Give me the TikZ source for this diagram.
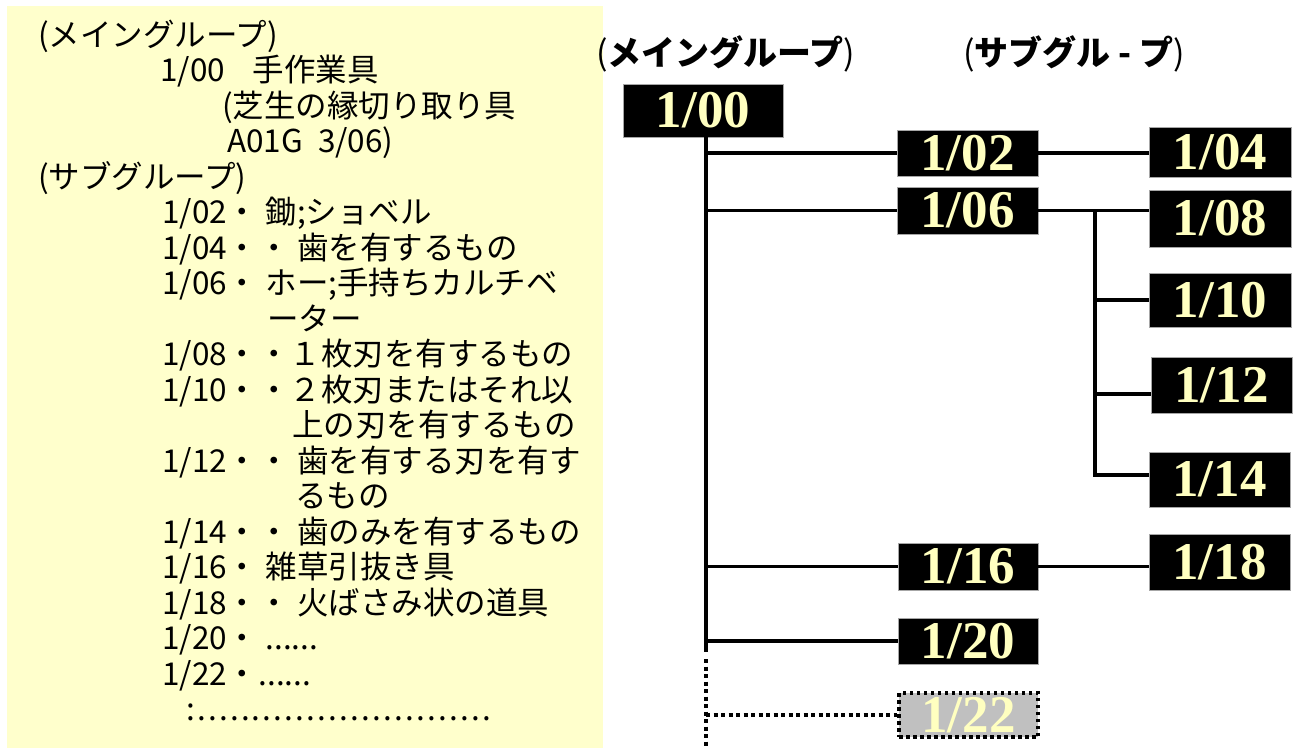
\documentclass[tikz,border=0pt]{standalone}
\usepackage{fontspec}
\setmainfont{Liberation Serif}
\newfontfamily\jp{Noto Sans CJK JP}
\newfontfamily\jpsp[LetterSpace=7]{Noto Sans CJK JP}
\definecolor{panel}{HTML}{FFFFCC}
\definecolor{boxtext}{HTML}{FFFFC0}
\definecolor{boxgray}{HTML}{C0C0C0}
\begin{document}
\begin{tikzpicture}[x=1pt,y=-1pt,
  code/.style={fill=black, draw=gray!70, line width=0.8pt, text=boxtext,
    font=\fontsize{53}{53}\selectfont\bfseries, inner sep=0pt,
    minimum width=141pt, minimum height=47pt},
  conn/.style={line width=3.5pt},
  dotline/.style={line width=4pt, dash pattern=on 4pt off 3.5pt},
  lt/.style={anchor=base west, inner sep=0pt, font=\jp\fontsize{31.5}{35}\selectfont},
  hd/.style={anchor=base west, inner sep=0pt, font=\jp\fontsize{34}{40}\selectfont}
]
\useasboundingbox (0,0) rectangle (1298,753);
\fill[white] (0,0) rectangle (1298,753);
\fill[panel] (7,6) rectangle (603,748);

% left list
\node[lt] (l0)  at (38,46)    {(メイングループ)};
\node[lt] (l1)  at (160,81.5) {1/00\hspace{28pt}手作業具};
\node[lt] (l2)  at (222,117)  {(芝生の縁切り取り具};
\node[lt] (l3)  at (227,152.5){A01G\hspace{15pt}3/06)};
\node[lt] (l4)  at (38,188)   {(サブグループ)};
\node[lt] (l5)  at (162,223.5){1/02・ 鋤;ショベル};
\node[lt] (l6)  at (162,259)  {1/04・・ 歯を有するもの};
\node[lt] (l7)  at (162,294.5){1/06・ ホー;手持ちカルチベ};
\node[lt] (l8)  at (267,330)  {ーター};
\node[lt] (l9)  at (162,365.5){1/08・・１枚刃を有するもの};
\node[lt] (l10) at (162,401)  {1/10・・２枚刃またはそれ以};
\node[lt] (l11) at (292,436.5){上の刃を有するもの};
\node[lt] (l12) at (162,472)  {1/12・・ 歯を有する刃を有す};
\node[lt] (l13) at (295,507.5){るもの};
\node[lt] (l14) at (162,543)  {1/14・・ 歯のみを有するもの};
\node[lt] (l15) at (162,578.5){1/16・ 雑草引抜き具};
\node[lt] (l16) at (162,614)  {1/18・・ 火ばさみ状の道具};
\node[lt] (l17) at (162,649.5){1/20・ ......};
\node[lt] (l18) at (162,685)  {1/22・......};
\node[lt] (l19) at (186,720.5){\jpsp :...........................};

% headers
\node[hd] (h1) at (596,65) {{\mdseries(}{\bfseries メイングループ}{\mdseries)}};
\node[hd] (h2) at (963,65) {{\mdseries(}{\bfseries サブグル - プ}{\mdseries)}};

% boxes
\node[code, minimum width=160pt, minimum height=53pt] (n00) at (703,110.5) {1/00};
\node[code, minimum height=46pt] (n02) at (967.5,153) {1/02};
\node[code] (n06) at (967.5,210.5) {1/06};
\node[code, minimum width=140pt] (n16) at (968,566.5) {1/16};
\node[code, minimum width=140pt, minimum height=46pt] (n20) at (968,641) {1/20};
\node[code, fill=boxgray, draw=black, line width=3.5pt, dash pattern=on 3.5pt off 3.5pt,
      minimum width=139pt, minimum height=44pt] (n22) at (968.5,715) {1/22};
\node[code, minimum width=142pt, minimum height=50pt] (n04) at (1220,152) {1/04};
\node[code, minimum width=142pt, minimum height=57pt] (n08) at (1220,218.5) {1/08};
\node[code, minimum width=142pt, minimum height=54pt] (n10) at (1220,300) {1/10};
\node[code, minimum height=56pt] (n12) at (1221.5,385) {1/12};
\node[code, minimum height=55pt] (n14) at (1219.5,479.5) {1/14};
\node[code, minimum height=56pt] (n18) at (1219.5,562) {1/18};

% main trunk
\coordinate (tb) at (706,652);
\coordinate (ts) at (706,659);
\coordinate (te) at (706,747);
\draw[conn] (n00.south -| tb) -- (tb);
\draw[conn] (tb |- n02.west) -- (n02.west);
\draw[conn] (tb |- n06.west) -- (n06.west);
\draw[conn] (tb |- n16.west) -- (n16.west);
\draw[conn] (tb |- n20.west) -- (n20.west);
\draw[dotline] (ts) -- (te);
\draw[dotline] (te |- n22.west) -- (n22.west);

% sub branches
\coordinate (sb) at (1095,475);
\coordinate (s12) at (1095,394);
\draw[conn] (n02.east) -- (n04.west |- n02.east);
\draw[conn] (n06.east) -- (n08.west |- n06.east);
\draw[conn] (sb |- n06.east) -- (sb) -- (n14.west |- sb);
\draw[conn] (sb |- n10.west) -- (n10.west);
\draw[conn] (s12) -- (n12.west |- s12);
\draw[conn] (n16.east) -- (n18.west |- n16.east);
\end{tikzpicture}
\end{document}
